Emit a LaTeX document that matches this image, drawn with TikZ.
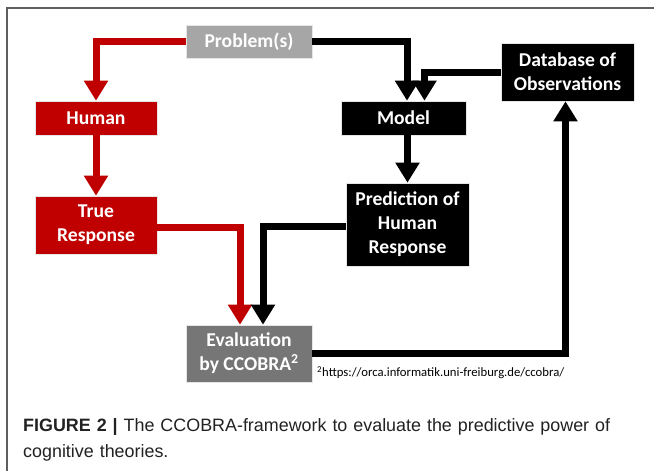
\documentclass[tikz,border=0pt]{standalone}
\usepackage{fontspec}
\setmainfont{Carlito}
\newfontfamily\capfont{Liberation Sans}
\usetikzlibrary{arrows.meta}
\definecolor{ccred}{HTML}{C00000}
\definecolor{probgray}{HTML}{A6A6A6}
\definecolor{evalgray}{HTML}{767676}
\definecolor{framegray}{HTML}{5F5F5F}
\definecolor{captext}{HTML}{222222}
\tikzset{
  box/.style={rectangle, draw=white!80!gray, line width=0.6pt, text=white, align=center,
    font=\bfseries\fontsize{19.6}{24}\selectfont, inner sep=0pt},
  conn/.style={line width=7pt, line join=miter, line cap=butt,
    -{Triangle[width=23pt,length=20pt]}},
  redconn/.style={conn, draw=ccred},
  blackconn/.style={conn, draw=black},
}
\begin{document}
\begin{tikzpicture}[x=1pt,y=-1pt]
\useasboundingbox (0,0) rectangle (654,471);
\fill[white] (0,0) rectangle (654,471);
\draw[framegray, line width=1.3pt] (7,471) -- (7,8) -- (654,8);

\node[box, fill=probgray, minimum width=126pt, minimum height=33pt] (prob) at (249,41.5) {Problem(s)};
\node[box, fill=ccred, minimum width=122pt, minimum height=34pt] (human) at (96,118) {Human};
\node[box, fill=black, minimum width=125pt, minimum height=34pt] (model) at (403.5,118) {Model};
\node[box, fill=black, minimum width=133pt, minimum height=58pt] (db) at (567.5,72) {Database of\\Observations};
\node[box, fill=ccred, minimum width=122pt, minimum height=58pt] (truer) at (96,225) {True\\Response};
\node[box, fill=black, minimum width=123pt, minimum height=83pt] (pred) at (407.5,224.5) {Prediction of\\Human\\Response};
\node[box, fill=evalgray, minimum width=126pt, minimum height=57pt] (eval) at (249,353.5) {Evaluation\\by CCOBRA\textsuperscript{2}};

\node[anchor=west, inner sep=0pt, font=\fontsize{12.7}{14}\selectfont] (foot) at (317,373)
  {\textsuperscript{2}https://orca.informatik.uni-freiburg.de/ccobra/};

\draw[redconn] (prob.west) -| (human.north);
\draw[redconn] (human.south) -- (truer.north);
\draw[redconn] ([yshift=-2pt]truer.east) -| ([xshift=-9pt]eval.north);
\draw[blackconn] (prob.east) -| ([xshift=3.5pt]model.north);
\draw[blackconn] (db.west) -| ([xshift=21pt]model.north);
\draw[blackconn] (model.south -| pred.north) -- (pred.north);
\draw[blackconn] ([yshift=-2pt]pred.west) -| ([xshift=14pt]eval.north);
\draw[blackconn] (eval.east) -| ([xshift=-2pt]db.south);

\node[anchor=north west, inner sep=0pt, text width=625pt, align=left, text=captext,
  font=\capfont\fontsize{17.9}{26}\selectfont] (cap) at (23,418)
  {\textbf{FIGURE 2 |} The CCOBRA-framework to evaluate the predictive power of\\cognitive theories.};
\end{tikzpicture}
\end{document}
